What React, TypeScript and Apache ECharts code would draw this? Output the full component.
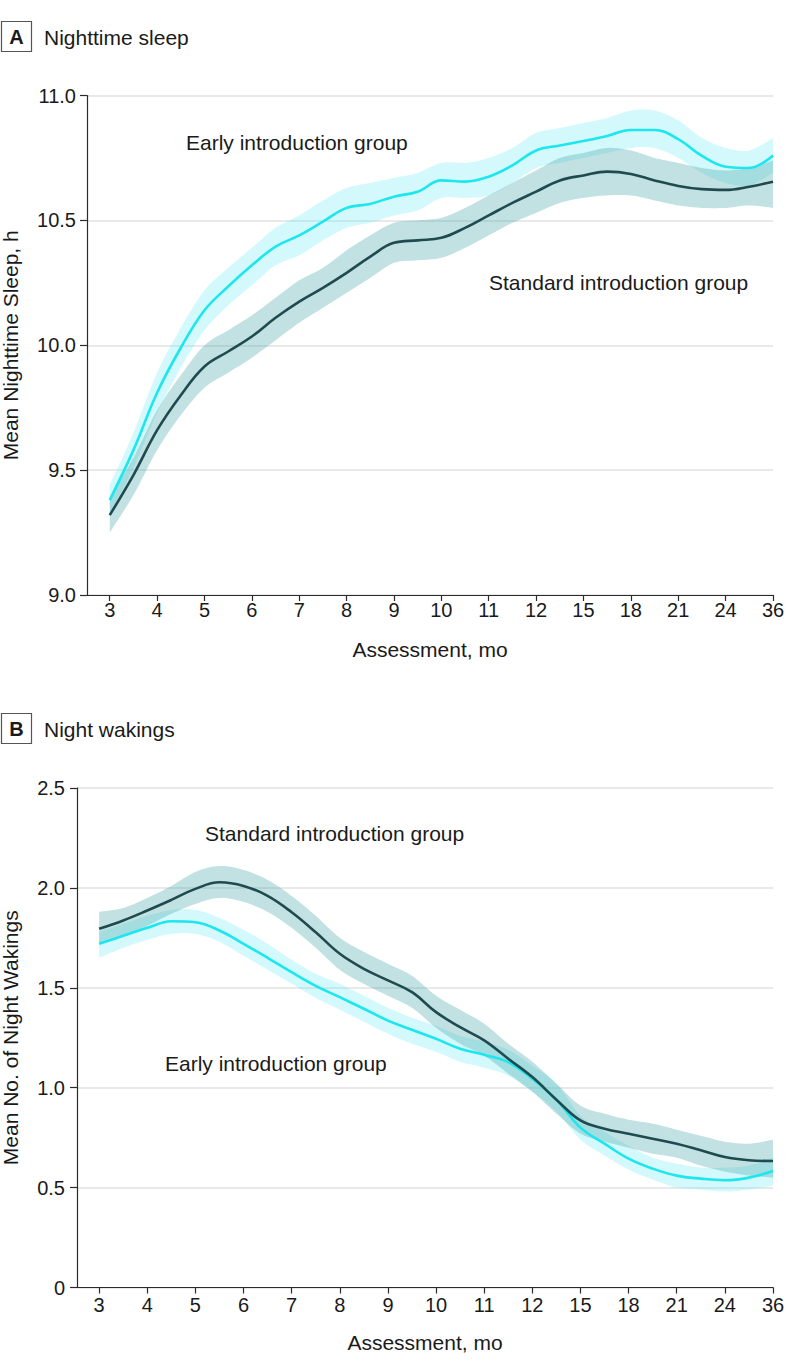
import React, { useEffect, useRef } from "react";
import * as echarts from "echarts";

// Tick labels (assessment months), equally spaced on the axis
const months = ["3", "4", "5", "6", "7", "8", "9", "10", "11", "12", "15", "18", "21", "24", "36"];
const tickPos = [0, 1, 2, 3, 4, 5, 6, 7, 8, 9, 10, 11, 12, 13, 14];
// Positions (in tick units) at which the curves were read
const xPos = [0, 0.5, 1, 1.5, 2, 2.5, 3, 3.5, 4, 4.5, 5, 5.5, 6, 6.5, 7, 7.5, 8, 8.5, 9, 9.5, 10, 10.5, 11, 11.5, 12, 12.5, 13, 13.5, 14];

// Panel A: Nighttime sleep (h)
const sleepEarly = [9.38, 9.58, 9.81, 9.99, 10.14, 10.235, 10.32, 10.395, 10.44, 10.495, 10.55, 10.566, 10.595, 10.615, 10.66, 10.655, 10.675, 10.72, 10.78, 10.8, 10.818, 10.838, 10.862, 10.862, 10.825, 10.758, 10.715, 10.71, 10.76];
const sleepEarlyLo = [9.32, 9.51, 9.73, 9.91, 10.06, 10.16, 10.24, 10.32, 10.36, 10.42, 10.47, 10.49, 10.52, 10.54, 10.59, 10.59, 10.6, 10.65, 10.71, 10.73, 10.75, 10.77, 10.79, 10.79, 10.75, 10.69, 10.65, 10.64, 10.69];
const sleepEarlyHi = [9.44, 9.65, 9.89, 10.07, 10.22, 10.31, 10.39, 10.47, 10.52, 10.58, 10.63, 10.65, 10.67, 10.69, 10.73, 10.73, 10.75, 10.79, 10.85, 10.87, 10.89, 10.91, 10.94, 10.94, 10.9, 10.83, 10.79, 10.78, 10.83];
const sleepStd = [9.32, 9.48, 9.66, 9.8, 9.915, 9.975, 10.035, 10.11, 10.175, 10.23, 10.29, 10.355, 10.41, 10.42, 10.43, 10.47, 10.52, 10.57, 10.615, 10.66, 10.68, 10.695, 10.686, 10.66, 10.638, 10.625, 10.622, 10.635, 10.655];
const sleepStdLo = [9.25, 9.4, 9.58, 9.72, 9.83, 9.89, 9.95, 10.02, 10.09, 10.15, 10.21, 10.27, 10.33, 10.34, 10.35, 10.39, 10.44, 10.49, 10.53, 10.57, 10.59, 10.6, 10.6, 10.58, 10.56, 10.55, 10.55, 10.56, 10.55];
const sleepStdHi = [9.39, 9.55, 9.74, 9.88, 10.0, 10.06, 10.12, 10.19, 10.26, 10.31, 10.38, 10.44, 10.49, 10.5, 10.51, 10.55, 10.6, 10.65, 10.7, 10.75, 10.77, 10.79, 10.78, 10.75, 10.73, 10.71, 10.7, 10.71, 10.74];

// Panel B: Night wakings
const wakeEarly = [1.72, 1.76, 1.8, 1.833, 1.828, 1.787, 1.72, 1.65, 1.578, 1.51, 1.453, 1.395, 1.336, 1.29, 1.245, 1.195, 1.165, 1.128, 1.045, 0.94, 0.8, 0.72, 0.645, 0.595, 0.56, 0.545, 0.537, 0.55, 0.583];
const wakeEarlyLo = [1.65, 1.7, 1.74, 1.77, 1.77, 1.73, 1.66, 1.59, 1.52, 1.45, 1.39, 1.33, 1.27, 1.22, 1.18, 1.13, 1.1, 1.06, 0.98, 0.88, 0.74, 0.66, 0.59, 0.54, 0.5, 0.49, 0.48, 0.49, 0.51];
const wakeEarlyHi = [1.78, 1.82, 1.86, 1.89, 1.89, 1.85, 1.79, 1.72, 1.64, 1.57, 1.52, 1.46, 1.4, 1.35, 1.31, 1.26, 1.23, 1.19, 1.11, 1.02, 0.86, 0.78, 0.71, 0.65, 0.62, 0.6, 0.6, 0.61, 0.65];
const wakeStd = [1.795, 1.837, 1.887, 1.94, 1.995, 2.028, 2.01, 1.96, 1.878, 1.778, 1.67, 1.595, 1.537, 1.478, 1.378, 1.303, 1.237, 1.145, 1.053, 0.94, 0.836, 0.795, 0.77, 0.745, 0.72, 0.687, 0.653, 0.637, 0.633];
const wakeStdLo = [1.72, 1.76, 1.81, 1.87, 1.92, 1.95, 1.93, 1.88, 1.8, 1.7, 1.59, 1.52, 1.46, 1.4, 1.3, 1.22, 1.16, 1.07, 0.98, 0.87, 0.77, 0.73, 0.7, 0.67, 0.65, 0.61, 0.58, 0.56, 0.55];
const wakeStdHi = [1.88, 1.9, 1.95, 2.01, 2.08, 2.11, 2.09, 2.04, 1.96, 1.86, 1.75, 1.68, 1.62, 1.56, 1.46, 1.39, 1.32, 1.22, 1.13, 1.02, 0.91, 0.87, 0.84, 0.82, 0.79, 0.76, 0.73, 0.72, 0.74];

const FONT = "Liberation Sans";
const CYAN = "#1ce6ee";
const DARK = "#1f4b50";
const CYAN_BAND = "rgba(110,236,245,0.30)";
const DARK_BAND = "rgba(70,165,168,0.33)";
const TXT = "#1a1a1a";

const pts = (vals: number[]) => xPos.map((x, i) => [x, vals[i]]);

// Catmull-Rom interpolation in pixel space (rendering only)
function spline(p: number[][]): number[][] {
  const n = p.length;
  const out: number[][] = [];
  const steps = 8;
  for (let i = 0; i < n - 1; i++) {
    const p0 = p[Math.max(i - 1, 0)];
    const p1 = p[i];
    const p2 = p[i + 1];
    const p3 = p[Math.min(i + 2, n - 1)];
    for (let s = 0; s < steps; s++) {
      const t = s / steps;
      const t2 = t * t;
      const t3 = t2 * t;
      const f = (a: number, b: number, c: number, d: number) =>
        0.5 * (2 * b + (-a + c) * t + (2 * a - 5 * b + 4 * c - d) * t2 + (-a + 3 * b - 3 * c + d) * t3);
      out.push([f(p0[0], p1[0], p2[0], p3[0]), f(p0[1], p1[1], p2[1], p3[1])]);
    }
  }
  out.push(p[n - 1]);
  return out;
}

function bandSeries(idx: number, lo: number[], hi: number[], color: string) {
  return {
    type: "custom",
    xAxisIndex: idx,
    yAxisIndex: idx,
    silent: true,
    clip: true,
    z: 1,
    data: xPos.map((x, i) => [x, lo[i], hi[i]]),
    encode: { x: 0, y: [1, 2] },
    renderItem: (params: any, api: any) => {
      if (params.dataIndex !== 0) return null;
      const n = xPos.length;
      const top: number[][] = [];
      const bot: number[][] = [];
      for (let i = 0; i < n; i++) {
        top.push(api.coord([api.value(0, i), api.value(2, i)]));
        bot.push(api.coord([api.value(0, i), api.value(1, i)]));
      }
      const pointsArr = spline(top).concat(spline(bot).reverse());
      return { type: "polygon", shape: { points: pointsArr }, style: { fill: color } };
    },
  };
}

function lineSeries(idx: number, name: string, vals: number[], color: string, z: number) {
  return {
    type: "line",
    name,
    xAxisIndex: idx,
    yAxisIndex: idx,
    data: pts(vals),
    smooth: 0.4,
    symbol: "none",
    silent: true,
    lineStyle: { color, width: 2.6 },
    z,
  };
}

function xAxisOf(gridIndex: number, min: number, margin: number) {
  return {
    type: "value",
    gridIndex,
    min,
    max: 14,
    name: "Assessment, mo",
    nameLocation: "middle",
    nameGap: 44,
    nameTextStyle: { fontFamily: FONT, fontSize: 21, color: TXT },
    axisLine: { show: true, onZero: false, lineStyle: { color: "#2b2b2b", width: 1.2 } },
    axisTick: { show: true, customValues: tickPos, length: 6, lineStyle: { color: "#2b2b2b", width: 1.2 } },
    axisLabel: {
      show: true,
      customValues: tickPos,
      margin,
      fontFamily: FONT,
      fontSize: 20,
      color: TXT,
      formatter: (v: number) => months[Math.round(v)] ?? "",
    },
    splitLine: { show: false },
  };
}

function yAxisOf(gridIndex: number, min: number, max: number, name: string, gap: number, margin: number, fmt: (v: number) => string) {
  return {
    type: "value",
    gridIndex,
    min,
    max,
    interval: 0.5,
    name,
    nameLocation: "middle",
    nameGap: gap,
    nameTextStyle: { fontFamily: FONT, fontSize: 21, color: TXT },
    axisLine: { show: true, onZero: false, lineStyle: { color: "#2b2b2b", width: 1.2 } },
    axisTick: { show: true, length: 7, lineStyle: { color: "#2b2b2b", width: 1.2 } },
    axisLabel: { margin, fontFamily: FONT, fontSize: 20, color: TXT, formatter: fmt },
    splitLine: { show: true, lineStyle: { color: "#e2e2e2", width: 1.5 } },
  };
}

function panelLabel(letter: string, title: string, top: number) {
  return [
    {
      type: "rect",
      shape: { x: 1.5, y: top + 0.5, width: 30, height: 30 },
      style: { fill: "#fff", stroke: "#555", lineWidth: 1.2 },
    },
    {
      type: "text",
      x: 16.5,
      y: top + 16,
      style: { text: letter, fontFamily: FONT, fontSize: 20, fontWeight: "bold", fill: TXT, align: "center", verticalAlign: "middle" },
    },
    {
      type: "text",
      x: 44,
      y: top + 16,
      style: { text: title, fontFamily: FONT, fontSize: 21, fill: TXT, align: "left", verticalAlign: "middle" },
    },
  ];
}

function note(text: string, x: number, y: number) {
  return {
    type: "text",
    x,
    y,
    style: { text, fontFamily: FONT, fontSize: 21, fill: TXT, align: "left", verticalAlign: "middle" },
  };
}

export default function App() {
  const ref = useRef<HTMLDivElement>(null);
  useEffect(() => {
    if (!ref.current) return;
    const chart = echarts.init(ref.current, undefined, { renderer: "svg" });
    const option = {
      animation: false,
      backgroundColor: "#ffffff",
      textStyle: { fontFamily: FONT },
      grid: [
        { left: 87, top: 95.5, width: 686, height: 499.5, containLabel: false, outerBoundsMode: "none" },
        { left: 77, top: 788, width: 696, height: 499.5, containLabel: false, outerBoundsMode: "none" },
      ],
      xAxis: [xAxisOf(0, -0.48, 5), xAxisOf(1, -0.46, 7)],
      yAxis: [
        yAxisOf(0, 9, 11, "Mean Nighttime Sleep, h", 66, 11, (v: number) => v.toFixed(1)),
        yAxisOf(1, 0, 2.5, "Mean No. of Night Wakings", 56, 12, (v: number) => (v === 0 ? "0" : v.toFixed(1))),
      ],
      series: [
        bandSeries(0, sleepEarlyLo, sleepEarlyHi, CYAN_BAND),
        bandSeries(0, sleepStdLo, sleepStdHi, DARK_BAND),
        lineSeries(0, "Early introduction group", sleepEarly, CYAN, 3),
        lineSeries(0, "Standard introduction group", sleepStd, DARK, 4),
        bandSeries(1, wakeEarlyLo, wakeEarlyHi, CYAN_BAND),
        bandSeries(1, wakeStdLo, wakeStdHi, DARK_BAND),
        lineSeries(1, "Early introduction group ", wakeEarly, CYAN, 3),
        lineSeries(1, "Standard introduction group ", wakeStd, DARK, 4),
      ],
      graphic: [
        ...panelLabel("A", "Nighttime sleep", 21),
        ...panelLabel("B", "Night wakings", 713),
        note("Early introduction group", 186, 142),
        note("Standard introduction group", 489, 282),
        note("Standard introduction group", 205, 833),
        note("Early introduction group", 165, 1063),
      ],
    };
    chart.setOption(option as any);
    return () => chart.dispose();
  }, []);
  return (
    <div
      ref={ref}
      style={{ position: "absolute", left: 0, top: 0, width: 798, height: 1372, background: "#fff" }}
    />
  );
}
